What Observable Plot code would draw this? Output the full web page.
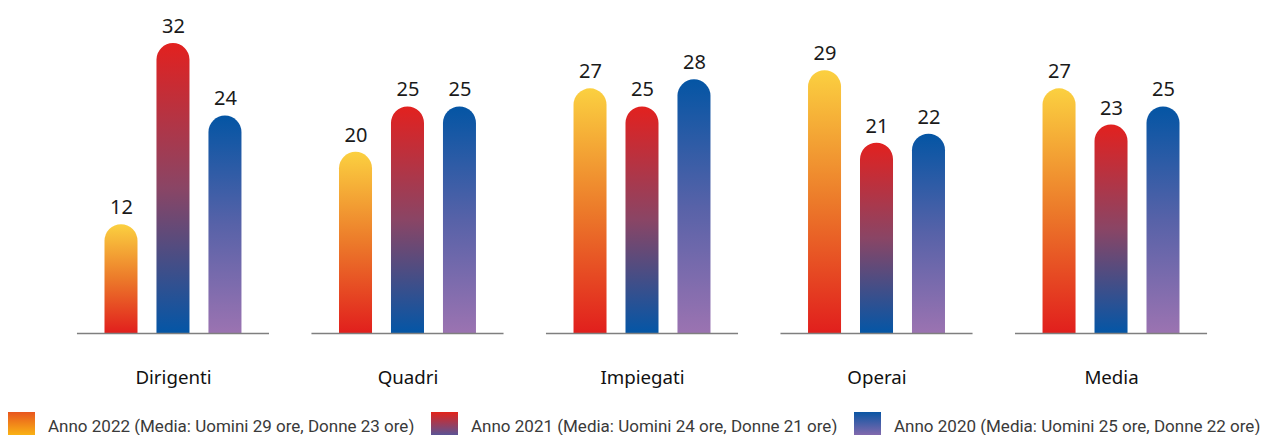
<!DOCTYPE html>
<html>
<head>
<meta charset="utf-8">
<script src="https://cdn.jsdelivr.net/npm/d3@7"></script>
<script src="https://cdn.jsdelivr.net/npm/@observablehq/plot@0.6"></script>
<style>
  html, body { margin: 0; padding: 0; background: #fff; }
  body { width: 1277px; height: 435px; overflow: hidden; font-family: Roboto, "Noto Sans", sans-serif; }
  #legend { display: flex; margin-top: 12px; padding-left: 8px; }
  .item { width: 432px; display: flex; align-items: flex-start; }
  .sw { width: 27px; height: 25px; flex: none; }
  .lab { margin-left: 13px; font-size: 17px; line-height: 25px; padding-top: 2px; color: #3a3a3a; white-space: nowrap; }
</style>
</head>
<body>
<div id="chart"></div>
<div id="legend"></div>
<script>
const categories = ["Dirigenti", "Quadri", "Impiegati", "Operai", "Media"];
const years = ["2022", "2021", "2020"];
const v2022 = [12, 20, 27, 29, 27];
const v2021 = [32, 25, 25, 21, 23];
const v2020 = [24, 25, 28, 22, 25];
const legendLabels = [
  "Anno 2022 (Media: Uomini 29 ore, Donne 23 ore)",
  "Anno 2021 (Media: Uomini 24 ore, Donne 21 ore)",
  "Anno 2020 (Media: Uomini 25 ore, Donne 22 ore)"
];
const gradStops = {
  "2022": ["#FBD040", "#EC7A2A", "#E11F1D"],
  "2021": ["#E2211F", "#8A4565", "#0456A6"],
  "2020": ["#0455A4", "#5762A8", "#9B73B1"]
};
const swatchStops = {
  "2022": ["#E8561E", "#FBBA14"],
  "2021": ["#E2231A", "#4F58A0"],
  "2020": ["#0A55A3", "#8C6BAE"]
};

const seriesValues = {"2022": v2022, "2021": v2021, "2020": v2020};
const data = [];
categories.forEach((c, i) => years.forEach(y => data.push({cat: c, year: y, value: seriesValues[y][i]})));

const barMarks = years.map(y => Plot.barY(data.filter(d => d.year === y), {
  fx: "cat", x: "year", y: "value", fill: `url(#grad${y})`, ry1: 16.5
}));

const svg = Plot.plot({
  width: 1277,
  height: 400,
  marginLeft: 34.5,
  marginRight: 27.5,
  marginTop: 10,
  marginBottom: 67,
  style: {fontFamily: "'Noto Sans', sans-serif", background: "#fff"},
  fx: {domain: categories, paddingInner: 0.181, paddingOuter: 0.181, round: false, label: null},
  x: {domain: years, paddingInner: 0.365, paddingOuter: 0.53, round: false, axis: null},
  y: {domain: [0, 35.65], axis: null},
  marks: [
    ...barMarks,
    Plot.ruleY([0], {stroke: "#7f7f7f", strokeWidth: 1.5}),
    Plot.text(data, {fx: "cat", x: "year", y: "value", text: d => String(d.value), dy: -17, fontSize: 20, fill: "#1a1a1a"}),
    Plot.axisFx({anchor: "bottom", tickSize: 0, tickPadding: 37, fontSize: 18.7, label: null, color: "#111"})
  ]
});

const defs = d3.select(svg).insert("defs", ":first-child");
years.forEach(y => {
  const g = defs.append("linearGradient").attr("id", "grad" + y)
    .attr("x1", 0).attr("y1", 0).attr("x2", 0).attr("y2", 1);
  const st = gradStops[y];
  st.forEach((c, i) => g.append("stop").attr("offset", i / (st.length - 1)).attr("stop-color", c));
});
document.getElementById("chart").appendChild(svg);

const legend = d3.select("#legend");
years.forEach((y, i) => {
  const it = legend.append("div").attr("class", "item");
  it.append("div").attr("class", "sw")
    .style("background", `linear-gradient(to bottom, ${swatchStops[y][0]}, ${swatchStops[y][1]})`);
  it.append("div").attr("class", "lab").text(legendLabels[i]);
});
</script>
</body>
</html>
